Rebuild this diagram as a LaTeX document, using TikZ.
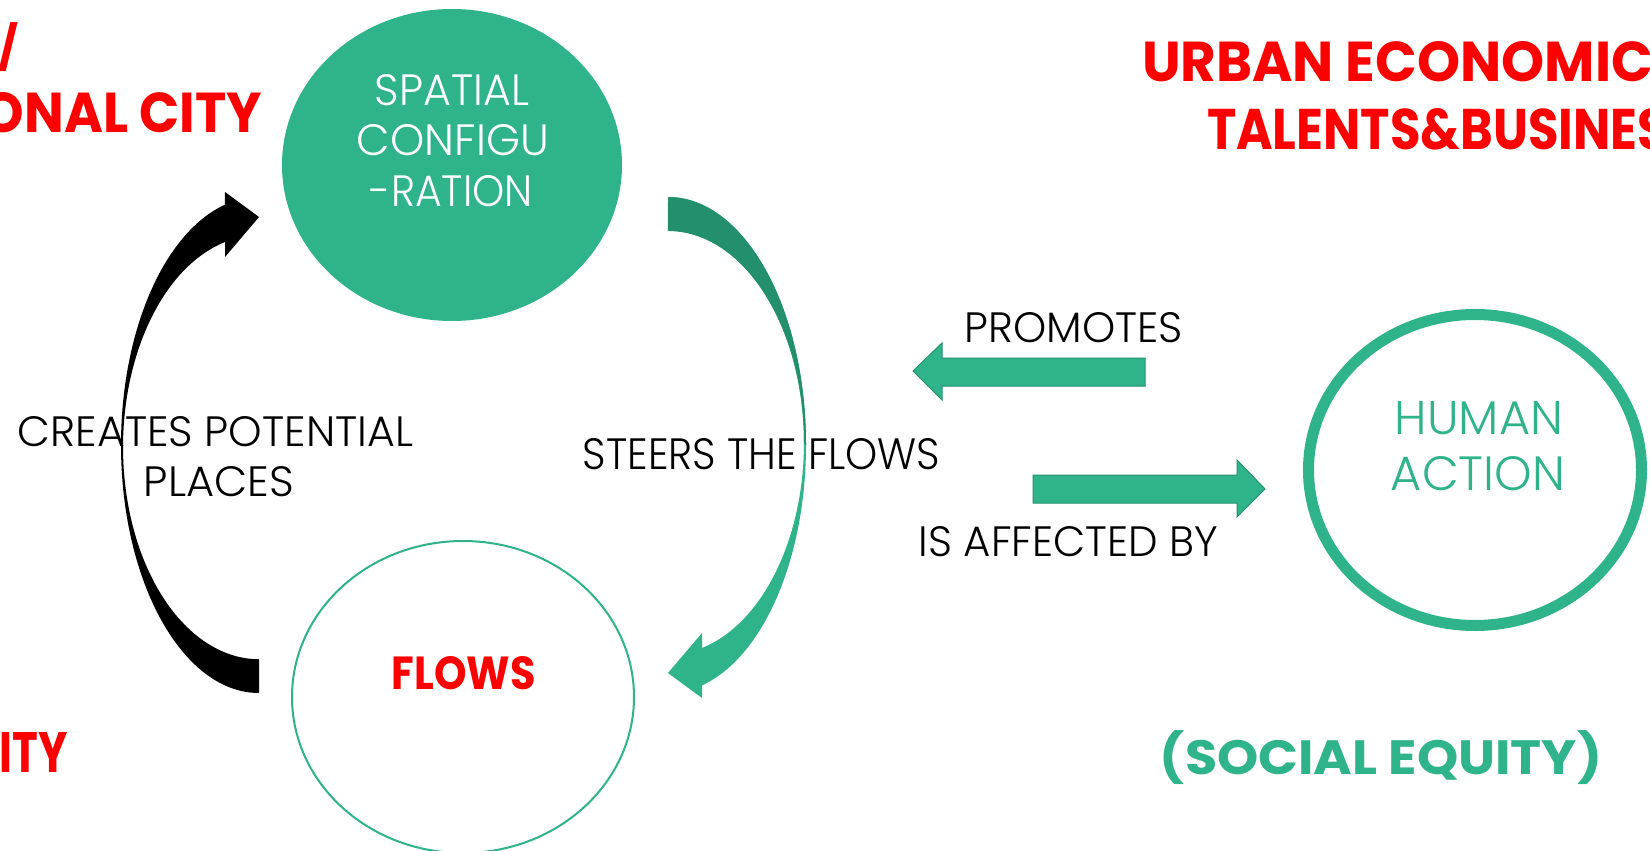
\documentclass[tikz,border=0pt]{standalone}
\usepackage{fontspec}
\usepackage{graphicx}
\setmainfont{Poppins}
\newfontfamily\lightf{Poppins Light}
\usetikzlibrary{shapes.geometric}
\definecolor{gfill}{RGB}{46,179,138}
\definecolor{gdark}{RGB}{35,143,109}
\definecolor{gline}{RGB}{36,144,110}
\definecolor{myred}{RGB}{255,0,0}
\newcommand\fitbox[3]{\resizebox{#1pt}{#2pt}{#3}}
\newcommand\fitboxt[3]{\resizebox*{#1pt}{#2pt}{#3}}
\tikzset{
  lbl/.style={inner sep=0pt, outer sep=0pt, font=\lightf},
  bold/.style={inner sep=0pt, outer sep=0pt, font=\bfseries, text=myred},
  bub/.style={ellipse, inner sep=0pt, outer sep=0pt},
  blockarrow/.style={fill=gfill, draw=gline, line width=1pt, line join=miter}
}
\begin{document}
\begin{tikzpicture}[x=1pt,y=-1pt]
\useasboundingbox (0,0) rectangle (1650,851);
\fill[white] (0,0) rectangle (1650,851);

% bubbles
\node[bub, fill=gfill, minimum width=340pt, minimum height=312pt] (spatial) at (452,165) {};
\node[bub, draw=gfill, line width=2pt, minimum width=342pt, minimum height=312pt] (flows) at (463,697) {};
\node[bub, draw=gfill, line width=11pt, minimum width=333pt, minimum height=311pt] (human) at (1475,470) {};

% black curved arrow (creates potential places)
\fill[black] (259,693) arc[start angle=90, end angle=255.7, x radius=138, y radius=248]
  -- (225,192) -- (259,217) -- (225,257) -- (225,242)
  arc[start angle=255.5, end angle=90, x radius=136, y radius=212] -- cycle;

% green curved arrow (steers the flows)
\fill[gfill] (668,197) arc[start angle=-90, end angle=75.7, x radius=138, y radius=248]
  -- (702,698) -- (668,673) -- (702,633) -- (702,648)
  arc[start angle=75.5, end angle=-90, x radius=136, y radius=212] -- cycle;
\fill[gdark] (668,197) arc[start angle=-90, end angle=0, x radius=138, y radius=248]
  -- (804,443) arc[start angle=0, end angle=-90, x radius=136, y radius=212] -- cycle;

% straight block arrows
\path[blockarrow] (1145,358) -- (942,358) -- (942,343) -- (913,371) -- (942,400) -- (942,386) -- (1145,386) -- cycle;
\path[blockarrow] (1033,475) -- (1237,475) -- (1237,460) -- (1265,489) -- (1237,517) -- (1237,503) -- (1033,503) -- cycle;

% texts in bubbles
\node[lbl, text=white] (s1) at (452,90.5) {\fitbox{154}{31}{SPATIAL}};
\node[lbl, text=white] (s2) at (453,140.5) {\fitbox{192}{31}{CONFIGU}};
\node[lbl, text=white] (s3) at (451.5,191.5) {\fitbox{163}{31}{-RATION}};
\node[bold] (fl) at (464,673.5) {\fitbox{144}{33}{FLOWS}};
\node[lbl, text=gfill] (h1) at (1479,418.5) {\fitbox{168}{33}{HUMAN}};
\node[lbl, text=gfill] (h2) at (1478,473.5) {\fitbox{174}{34}{ACTION}};

% connector labels
\node[lbl] (c1) at (215.5,432) {\fitbox{395}{30}{CREATES POTENTIAL}};
\node[lbl] (c2) at (219,482) {\fitbox{150}{30}{PLACES}};
\node[lbl] (st) at (761.5,454.5) {\fitbox{357}{31}{STEERS THE FLOWS}};
\node[lbl] (pr) at (1074,328) {\fitbox{218}{30}{PROMOTES}};
\node[lbl] (af) at (1068.5,542) {\fitbox{299}{30}{IS AFFECTED BY}};

% red headings
\node[bold, anchor=east] (sl) at (19,47.5) {\fitboxt{20}{49}{/}};
\node[bold, anchor=east] (oc) at (262,112.5) {\fitbox{279}{40}{ONAL CITY}};
\node[bold, anchor=east] (it) at (68,752) {\fitbox{68}{40}{ITY}};
\node[bold, anchor=west] (ue) at (1142,62) {\fitbox{511}{40}{URBAN ECONOMIC}};
\node[bold, anchor=west] (tb) at (1207,129.5) {\fitbox{461}{41}{TALENTS\&BUSINES}};
\node[bold, text=gfill] (se) at (1381,758) {\fitboxt{442}{54}{(SOCIAL EQUITY)}};
\end{tikzpicture}
\end{document}
